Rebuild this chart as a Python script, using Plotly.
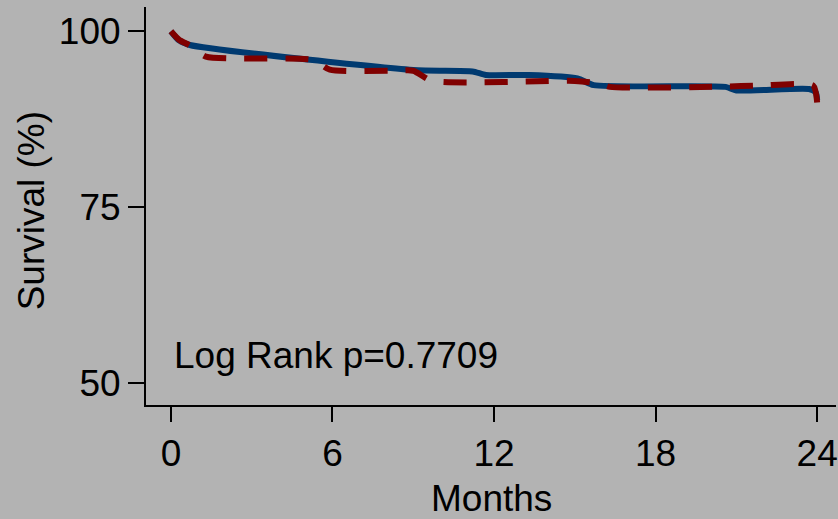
import plotly.graph_objects as go

# Blue (solid) group survival curve
blue_t = [0, 0.3, 0.7, 9.0, 11.2, 11.7, 13.3, 15.1, 15.7, 20.6, 21.0, 23.7, 23.95, 24.0]
blue_s = [100, 98.7, 98.05, 94.5, 94.3, 93.8, 93.8, 93.3, 92.35, 92.1, 91.6, 91.8, 91.3, 90.2]

# Red (dashed) group survival curve
red_t = [0, 0.3, 0.7, 1.3, 5.3, 5.9, 8.3, 9.0, 9.7, 15.0, 15.9, 16.3, 20.5, 21.9, 23.85, 24.0]
red_s = [100, 98.8, 98.0, 96.4, 95.9, 94.55, 94.4, 94.4, 92.95, 92.95, 92.6, 92.1, 92.15, 92.3, 92.3, 89.9]

x_ticks = [0, 6, 12, 18, 24]
y_ticks = [50, 75, 100]

BG = "#b3b3b3"
FONT = "Liberation Sans, Arial, sans-serif"

fig = go.Figure()
fig.add_trace(go.Scatter(x=blue_t, y=blue_s, mode="lines",
                         line=dict(color="#003a70", width=6, shape="spline", smoothing=0.6),
                         showlegend=False))
fig.add_trace(go.Scatter(x=red_t, y=red_s, mode="lines",
                         line=dict(color="#800000", width=6, dash="23px,18px", shape="spline", smoothing=0.6),
                         showlegend=False))

fig.update_layout(
    width=838, height=519,
    margin=dict(l=146, r=0, t=7, b=114),
    paper_bgcolor=BG, plot_bgcolor=BG,
    font=dict(family=FONT, size=37, color="black"),
    xaxis=dict(range=[-0.926, 24.70], tickvals=x_ticks, showgrid=False, zeroline=False,
               showline=True, linecolor="black", linewidth=2,
               ticks="outside", ticklen=15, tickwidth=2, tickcolor="black",
               ticklabeloverflow="allow", tickfont=dict(size=37)),
    yaxis=dict(range=[46.92, 103.45], tickvals=y_ticks, showgrid=False, zeroline=False,
               showline=True, linecolor="black", linewidth=2,
               ticks="outside", ticklen=16, tickwidth=2, tickcolor="black",
               tickfont=dict(size=37)),
    annotations=[
        dict(text="Survival (%)", xref="paper", yref="paper", x=-0.1662, y=0.4874,
             textangle=-90, showarrow=False, xanchor="center", yanchor="middle",
             font=dict(size=37)),
        dict(text="Months", xref="paper", yref="paper", x=0.5007, y=-0.235,
             showarrow=False, xanchor="center", yanchor="middle", font=dict(size=37)),
        dict(text="Log Rank p=0.7709", xref="paper", yref="paper", x=0.0376, y=0.1244,
             showarrow=False, xanchor="left", yanchor="middle", font=dict(size=37)),
    ],
)

fig.write_html("out.html")
